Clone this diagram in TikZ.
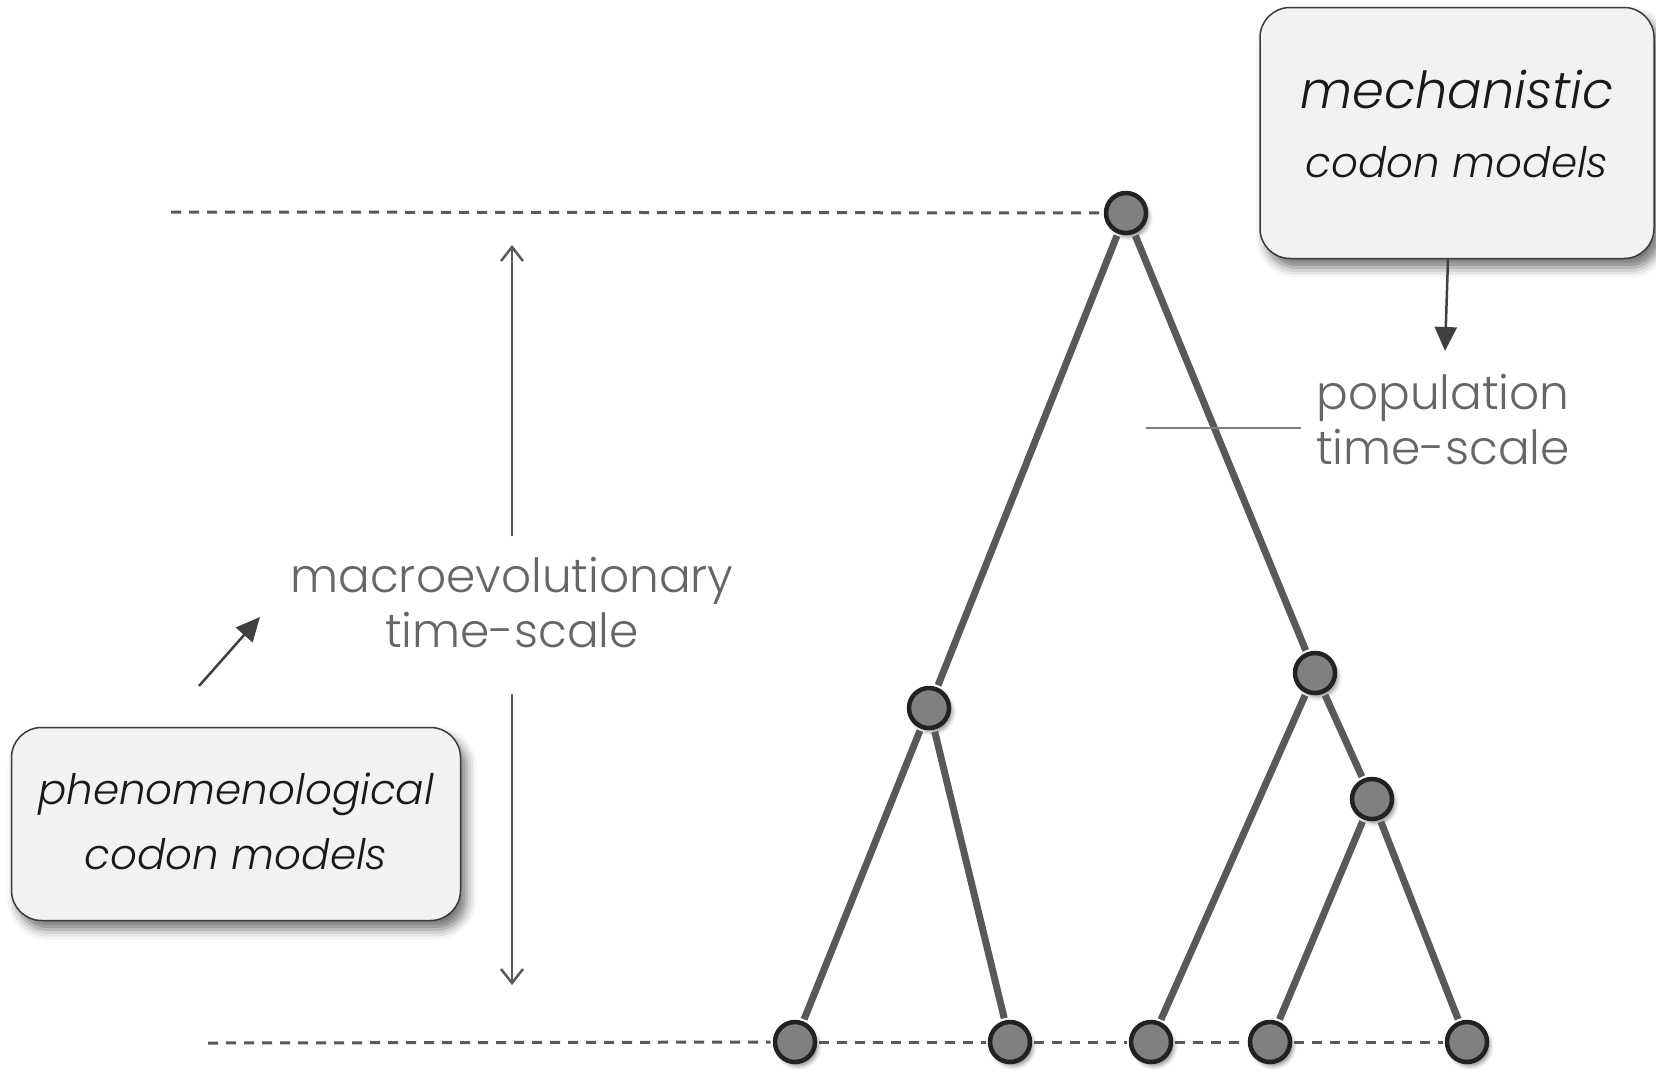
\documentclass[tikz,border=0pt]{standalone}
\usepackage{fontspec}
\setmainfont{Poppins}[UprightFont={* Light}, ItalicFont={* Light Italic}]
\usetikzlibrary{arrows.meta,shadows.blur}

\definecolor{edgegray}{HTML}{595959}
\definecolor{nodefill}{HTML}{808080}
\definecolor{nodeline}{HTML}{222222}
\definecolor{boxfill}{HTML}{F2F2F2}
\definecolor{boxline}{HTML}{3A3A3A}
\definecolor{labelgray}{HTML}{666666}
\definecolor{arrowdark}{HTML}{404040}

\tikzset{
  taxon/.style={circle, draw=nodeline, line width=4.5pt, fill=nodefill,
    minimum size=40pt, inner sep=0pt,
    blur shadow={shadow xshift=3pt, shadow yshift=-4pt,
      shadow blur radius=4pt, shadow opacity=45}},
  branch/.style={line width=7pt, draw=edgegray,
    shorten <=2.2pt, shorten >=2.2pt},
  guide/.style={dash pattern=on 10pt off 8pt, line width=3pt, draw=edgegray,
    shorten >=2.2pt},
  leafguide/.style={guide, shorten <=2.2pt},
  modelbox/.style={rounded corners=30pt, draw=boxline, line width=1.5pt,
    fill=boxfill, align=center, text=black!90, inner sep=0pt,
    font=\itshape\fontsize{42}{42}\selectfont,
    blur shadow={shadow xshift=6pt, shadow yshift=-9pt,
      shadow blur radius=10pt, shadow opacity=55}},
  scalelabel/.style={text=labelgray, align=center,
    font=\fontsize{47}{55}\selectfont},
  scalearrow/.style={line width=2.5pt, draw=edgegray,
    -{Straight Barb[length=14pt,width=22pt,line width=2.5pt]}},
  modelarrow/.style={line width=2.5pt, draw=arrowdark,
    -{Triangle[length=24pt,width=22pt]}, fill=arrowdark},
  refline/.style={line width=2.5pt, draw=black!50},
}

\begin{document}
\begin{tikzpicture}[x=1pt,y=-1pt]
\useasboundingbox (0,0) rectangle (1656,1077);

% tree nodes
\node[taxon] (root)  at (1126,213) {};
\node[taxon] (lint)  at (929,708) {};
\node[taxon] (rint)  at (1315,673) {};
\node[taxon] (rrint) at (1372,799) {};
\node[taxon] (t1) at (795,1042) {};
\node[taxon] (t2) at (1010,1042) {};
\node[taxon] (t3) at (1151,1042) {};
\node[taxon] (t4) at (1270,1042) {};
\node[taxon] (t5) at (1467,1042) {};

% dashed time horizons
\coordinate (topguide) at (171,212);
\coordinate (botguide) at (208,1043);
\draw[guide] (topguide) -- (root);
\draw[guide] (botguide) -- (t1);
\foreach \a/\b in {t1/t2, t2/t3, t3/t4, t4/t5}{
  \draw[leafguide] (\a) -- (\b);
}

% branches
\foreach \a/\b in {root/lint, root/rint, lint/t1, lint/t2,
                   rint/t3, rint/rrint, rrint/t4, rrint/t5}{
  \draw[branch] (\a) -- (\b);
}

% time-scale labels
\node[scalelabel] (macro) at (512,603) {macroevolutionary\\time-scale};
\node[scalelabel] (popul) at (1443,420) {population\\time-scale};

\coordinate (upfrom) at (512,536);
\coordinate (upto) at (512,245);
\coordinate (downfrom) at (512,694);
\coordinate (downto) at (512,985);
\draw[scalearrow] (upfrom) -- (upto);
\draw[scalearrow] (downfrom) -- (downto);

\coordinate (popstart) at (1146,428);
\coordinate (popend) at (1301,428);
\draw[refline] (popstart) -- (popend);

% model boxes
\node[modelbox, minimum width=394pt, minimum height=251pt] (mech) at (1457,133)
  {{\fontsize{51}{51}\selectfont mechanistic}\\[27pt]codon models\\[-23pt]};
\node[modelbox, minimum width=449pt, minimum height=193pt] (phen) at (236,824)
  {phenomenological\\[22pt]codon models\\[-36pt]};

\coordinate (mechtip) at (1445,351);
\draw[modelarrow] ([xshift=-9pt]mech.south) -- (mechtip);
\coordinate (phenfrom) at (199,686);
\coordinate (phento) at (260,617);
\draw[modelarrow] (phenfrom) -- (phento);
\end{tikzpicture}
\end{document}
